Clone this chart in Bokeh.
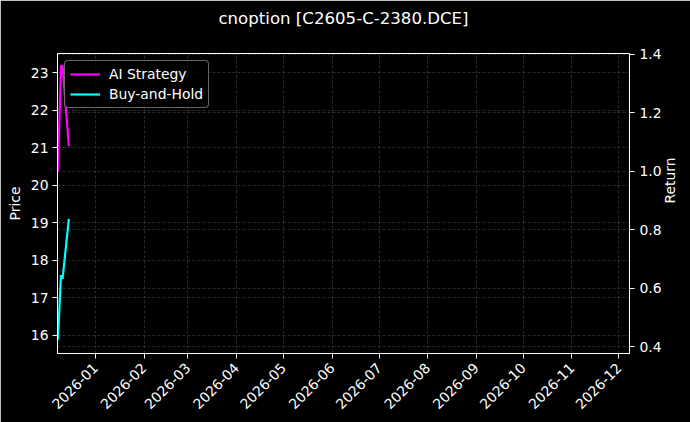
import math
import pandas as pd
from bokeh.plotting import figure
from bokeh.models import (Range1d, LinearAxis, FixedTicker, NumeralTickFormatter,
                          Grid, Legend, LegendItem, Title)
from bokeh.embed import file_html
from bokeh.resources import INLINE

# ---- data ----
dates = ["2025-12-08", "2025-12-10", "2025-12-11", "2025-12-15"]
buy_hold_price = [15.88, 17.6, 17.5, 19.1]
ai_strategy_return = [1.00, 1.36, 1.36, 1.086]

month_starts = ["2026-01-01", "2026-02-01", "2026-03-01", "2026-04-01", "2026-05-01",
                "2026-06-01", "2026-07-01", "2026-08-01", "2026-09-01", "2026-10-01",
                "2026-11-01", "2026-12-01"]
month_labels = ["2026-01", "2026-02", "2026-03", "2026-04", "2026-05", "2026-06",
                "2026-07", "2026-08", "2026-09", "2026-10", "2026-11", "2026-12"]
price_ticks = [16, 17, 18, 19, 20, 21, 22, 23]
return_ticks = [0.4, 0.6, 0.8, 1.0, 1.2, 1.4]
title_text = "cnoption [C2605-C-2380.DCE]"

x_start = pd.Timestamp("2025-12-07 18:00")
x_end = pd.Timestamp("2026-12-07 18:00")
price_range = (15.51, 23.51)
return_range = (0.377, 1.402)

FONT = "DejaVu Sans"
BG = "#000000"
FS = "13.9px"

x = pd.to_datetime(dates)
month_ms = [pd.Timestamp(m).value // 10**6 for m in month_starts]

p = figure(width=690, height=422, x_axis_type="datetime",
           output_backend="svg", toolbar_location=None,
           x_range=Range1d(x_start, x_end),
           y_range=Range1d(*price_range),
           min_border_left=57, min_border_right=61,
           min_border_top=53, min_border_bottom=69,
           background_fill_color=BG, border_fill_color=BG,
           outline_line_color="white", outline_line_width=1)

p.extra_y_ranges = {"ret": Range1d(*return_range)}

p.title.text = title_text
p.title.text_color = "white"
p.title.text_font = FONT
p.title.text_font_size = "16.6px"
p.title.text_font_style = "normal"
p.title.align = "center"
p.title.standoff = 10

# empty spacer panel between the frame and the (outermost) title
p.add_layout(Title(text=" ", text_font_size="11px", standoff=7,
                   background_fill_color=None, border_line_color=None), "above")

# grids
grid_kw = dict(grid_line_color="#9a9a9a", grid_line_alpha=0.45,
               grid_line_width=0.6, grid_line_dash="3 2")
p.xgrid.ticker = FixedTicker(ticks=month_ms)
p.ygrid.ticker = FixedTicker(ticks=price_ticks)
for g in (p.xgrid[0], p.ygrid[0]):
    for k, v in grid_kw.items():
        setattr(g, k, v)
rgrid = Grid(dimension=1, ticker=FixedTicker(ticks=return_ticks), y_range_name="ret", **grid_kw)
p.add_layout(rgrid)

# lines
r_ai = p.line(x, ai_strategy_return, y_range_name="ret", line_color="#ff00ff", line_width=2.2)
r_bh = p.line(x, buy_hold_price, line_color="#00ffff", line_width=2.2)

# axes
def style_axis(ax):
    ax.axis_line_color = "white"
    ax.major_tick_line_color = "white"
    ax.minor_tick_line_color = None
    ax.major_tick_out = 5
    ax.major_tick_in = 0
    ax.major_label_text_color = "white"
    ax.major_label_text_font = FONT
    ax.major_label_text_font_size = FS
    ax.major_label_standoff = 4
    ax.axis_label_text_color = "white"
    ax.axis_label_text_font = FONT
    ax.axis_label_text_font_size = FS
    ax.axis_label_text_font_style = "normal"
    ax.axis_label_standoff = 8

xa = p.xaxis[0]
xa.ticker = FixedTicker(ticks=month_ms)
xa.major_label_overrides = {ms: lab for ms, lab in zip(month_ms, month_labels)}
xa.major_label_orientation = math.pi / 4
style_axis(xa)
xa.major_label_standoff = 7

ya = p.yaxis[0]
ya.ticker = FixedTicker(ticks=price_ticks)
ya.axis_label = "Price"
style_axis(ya)
ya.axis_label_standoff = 5

ra = LinearAxis(y_range_name="ret", axis_label="Return",
                ticker=FixedTicker(ticks=return_ticks),
                formatter=NumeralTickFormatter(format="0.0"))
style_axis(ra)
ra.major_label_standoff = 5
ra.axis_label_standoff = 5
try:
    ra.axis_label_orientation = math.pi / 2
except Exception:
    pass
p.add_layout(ra, "right")

legend = Legend(items=[LegendItem(label="AI Strategy", renderers=[r_ai]),
                       LegendItem(label="Buy-and-Hold", renderers=[r_bh])],
                location="top_left", margin=7, padding=5, spacing=4,
                label_standoff=9, glyph_width=30, glyph_height=16, label_height=16,
                label_text_color="white", label_text_font=FONT,
                label_text_font_size=FS,
                background_fill_color=BG, background_fill_alpha=0.8,
                border_line_color="#cccccc", border_line_width=1)
try:
    legend.border_radius = 4
except Exception:
    pass
p.add_layout(legend)

open("out.html", "w").write(file_html(p, INLINE))
